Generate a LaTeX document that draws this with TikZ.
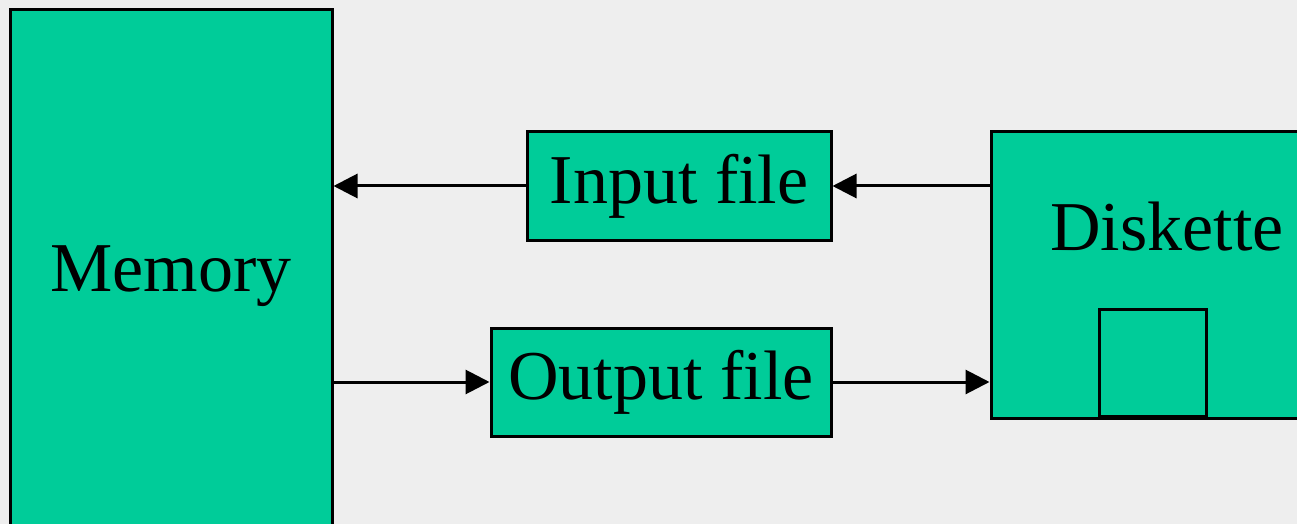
\documentclass[tikz,border=0pt]{standalone}
\usepackage{fontspec}
\setmainfont{Liberation Serif}
\usetikzlibrary{arrows.meta}
\definecolor{boxteal}{HTML}{00CC99}
\definecolor{paper}{HTML}{EEEEEE}

\begin{document}
\begin{tikzpicture}[x=0.5pt,y=-0.5pt,
	box/.style={draw,line width=1.5pt,fill=boxteal,inner sep=0pt,font=\fontsize{35}{42}\selectfont},
	flow/.style={line width=1.5pt,-{Triangle[length=12pt,width=12pt]}}]
			\useasboundingbox (0,0) rectangle (1297,524);
			\clip (0,0) rectangle (1297,524);
			\fill[paper] (0,0) rectangle (1297,524);
			\node[box,minimum width=161pt,minimum height=266pt] (mem) at (171,276) {Memory};
			\node[box,minimum width=152pt,minimum height=54pt] (in) at (679,186) {\raisebox{-2pt}{Input file}};
			\node[box,minimum width=170pt,minimum height=54pt] (out) at (661,382) {\raisebox{-2pt}{Output file}};
			\node[box,minimum width=175pt,minimum height=143pt] (disk) at (1166,275) {};
			\node[font=\fontsize{35}{42}\selectfont] (disklabel) at (1167,227) {Diskette};
			\node[draw,line width=1.5pt,minimum width=53.5pt,minimum height=53.5pt,inner sep=0pt,anchor=south] (slot) at (1152.5,418) {};
			\draw[flow] (in.west) -- (in.west -| mem.east);
			\draw[flow] (disk.west |- in.west) -- (in.east);
			\draw[flow] (out.west -| mem.east) -- (out.west);
			\draw[flow] (out.east) -- (out.east -| disk.west);
		\end{tikzpicture}
\end{document}
